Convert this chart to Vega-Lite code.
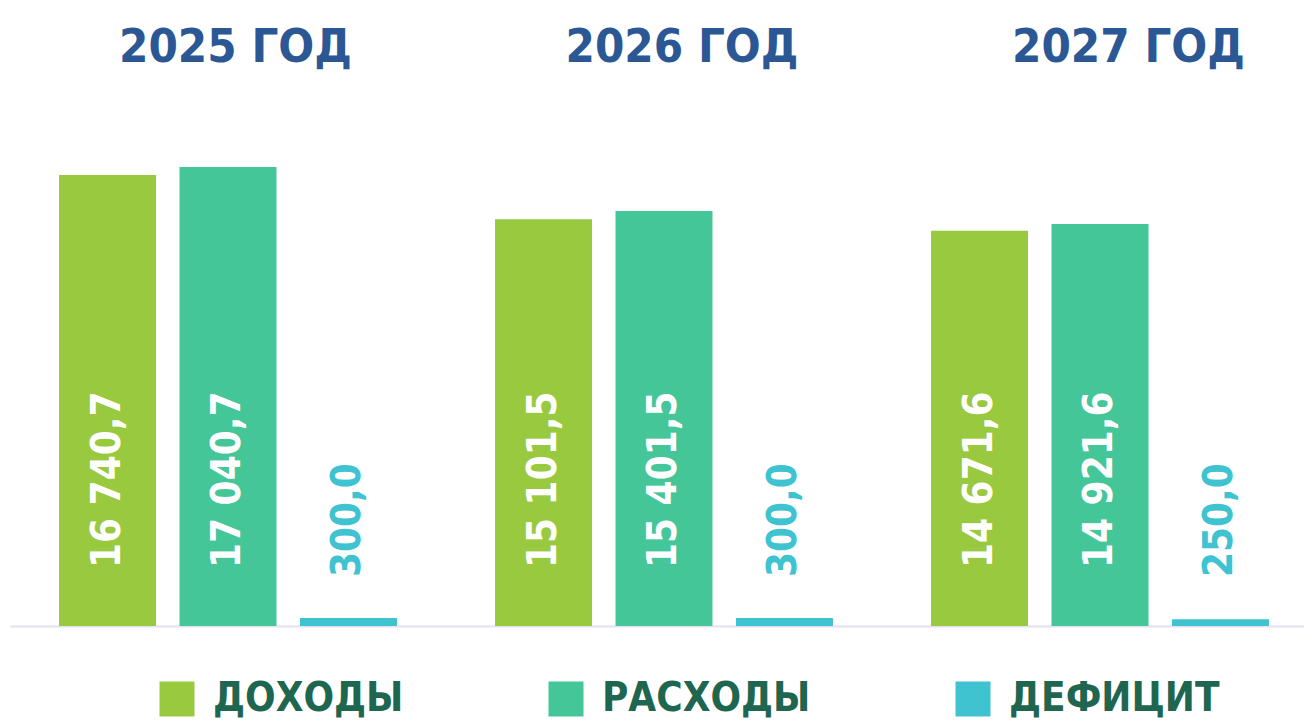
{
  "$schema": "https://vega.github.io/schema/vega-lite/v6.json",
  "width": 1294,
  "height": 526,
  "autosize": "none",
  "padding": {"left": 10, "top": 100, "right": 0, "bottom": 96},
  "config": {
    "view": {"stroke": null},
    "locale": {"number": {"decimal": ",", "thousands": " ", "grouping": [3], "currency": ["", ""]}},
    "font": "'DejaVu Sans Condensed', Roboto, sans-serif"
  },
  "data": {
    "values": [
      {"year": 2025, "cat": "ДОХОДЫ", "value": 16740.7},
      {"year": 2025, "cat": "РАСХОДЫ", "value": 17040.7},
      {"year": 2025, "cat": "ДЕФИЦИТ", "value": 300.0},
      {"year": 2026, "cat": "ДОХОДЫ", "value": 15101.5},
      {"year": 2026, "cat": "РАСХОДЫ", "value": 15401.5},
      {"year": 2026, "cat": "ДЕФИЦИТ", "value": 300.0},
      {"year": 2027, "cat": "ДОХОДЫ", "value": 14671.6},
      {"year": 2027, "cat": "РАСХОДЫ", "value": 14921.6},
      {"year": 2027, "cat": "ДЕФИЦИТ", "value": 250.0}
    ]
  },
  "layer": [
    {
      "encoding": {
        "x": {
          "field": "year", "type": "ordinal",
          "scale": {"range": [0, 1308], "paddingInner": 0, "paddingOuter": 0},
          "axis": {"orient": "bottom", "labels": false, "ticks": false, "title": null, "grid": false, "domainColor": "#E3E0F0", "domainWidth": 2}
        },
        "xOffset": {
          "field": "cat", "type": "nominal",
          "scale": {"domain": ["ДОХОДЫ", "РАСХОДЫ", "ДЕФИЦИТ"], "paddingInner": 0.195, "paddingOuter": 0.407}
        }
      },
      "layer": [
        {
          "mark": {"type": "bar"},
          "encoding": {
            "y": {"field": "value", "type": "quantitative", "scale": {"domain": [0, 19525], "nice": false}, "axis": null},
            "color": {
              "field": "cat", "type": "nominal",
              "scale": {"domain": ["ДОХОДЫ", "РАСХОДЫ", "ДЕФИЦИТ"], "range": ["#99C93F", "#44C699", "#40C3D0"]},
              "legend": {
                "orient": "none", "legendX": 147, "legendY": 579, "direction": "horizontal", "title": null,
                "symbolType": "square", "symbolSize": 1225, "symbolStrokeWidth": 0, "symbolOpacity": 1,
                "labelFont": "'DejaVu Sans Condensed', Roboto, sans-serif", "labelFontSize": 40, "labelFontWeight": "bold",
                "labelColor": "#1F6650", "labelOffset": 16, "columnPadding": 142, "labelLimit": 0
              }
            }
          }
        },
        {
          "transform": [{"filter": "datum.cat !== 'ДЕФИЦИТ'"}],
          "mark": {"type": "text", "angle": 270, "align": "left", "baseline": "middle", "dx": 58, "fontSize": 40, "fontWeight": "bold", "color": "#FFFFFF"},
          "encoding": {
            "y": {"datum": 0, "type": "quantitative"},
            "text": {"field": "value", "type": "quantitative", "format": ",.1f"}
          }
        },
        {
          "transform": [{"filter": "datum.cat === 'ДЕФИЦИТ'"}],
          "mark": {"type": "text", "angle": 270, "align": "left", "baseline": "middle", "dx": 49, "fontSize": 40, "fontWeight": "bold", "color": "#40C3D0"},
          "encoding": {
            "y": {"datum": 0, "type": "quantitative"},
            "text": {"field": "value", "type": "quantitative", "format": ",.1f"}
          }
        }
      ]
    },
    {
      "mark": {"type": "tick", "opacity": 0},
      "encoding": {
        "x": {
          "field": "year", "type": "quantitative",
          "scale": {"domain": [2024.49608, 2027.39418], "nice": false, "zero": false},
          "axis": {
            "orient": "top", "values": [2025, 2026, 2027], "labelExpr": "datum.value + ' ГОД'",
            "grid": false, "ticks": false, "domain": false, "title": null,
            "labelFont": "'DejaVu Sans Condensed', Roboto, sans-serif", "labelFontSize": 47, "labelFontWeight": "bold",
            "labelColor": "#2C5795", "labelPadding": 29, "labelFlush": false, "labelOverlap": false, "labelBound": false, "labelLimit": 0
          }
        }
      }
    }
  ],
  "resolve": {"scale": {"x": "independent", "xOffset": "independent"}, "axis": {"x": "independent"}}
}
